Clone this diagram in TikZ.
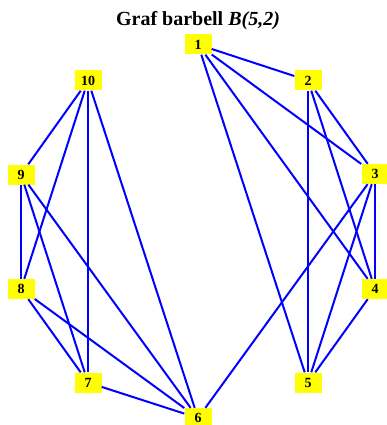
\documentclass[tikz,border=0pt]{standalone}
\usepackage{fontspec}
\setmainfont{Liberation Serif}
\begin{document}
\begin{tikzpicture}[x=1pt,y=-1pt,
  vert/.style={fill={rgb,255:red,255;green,255;blue,0}, draw=none, minimum width=27pt, minimum height=20pt, inner sep=0pt, font=\bfseries\fontsize{14}{14}\selectfont},
  edge/.style={draw={rgb,255:red,0;green,0;blue,255}, line width=2pt}]
\useasboundingbox (0,0) rectangle (387,425);
\node[font=\bfseries\fontsize{20}{20}\selectfont, anchor=base, inner sep=0pt] (title) at (198,25.7) {Graf barbell \textit{B(5,2)}};
\node[vert] (n1) at (198,44.5) {1};
\node[vert] (n2) at (308,80.5) {2};
\node[vert] (n3) at (375,174) {3};
\node[vert] (n4) at (375,289) {4};
\node[vert] (n5) at (308,382.5) {5};
\node[vert] (n6) at (198,418) {6};
\node[vert] (n7) at (88,382.5) {7};
\node[vert] (n8) at (21,289) {8};
\node[vert] (n9) at (21,174.5) {9};
\node[vert] (n10) at (88,80.5) {10};
\foreach \a/\b in {n1/n2,n1/n3,n1/n4,n1/n5,n2/n3,n2/n4,n2/n5,n3/n4,n3/n5,n4/n5,
                   n6/n7,n6/n8,n6/n9,n6/n10,n7/n8,n7/n9,n7/n10,n8/n9,n8/n10,n9/n10,n3/n6}
  \draw[edge] (\a) -- (\b);
\end{tikzpicture}
\end{document}
